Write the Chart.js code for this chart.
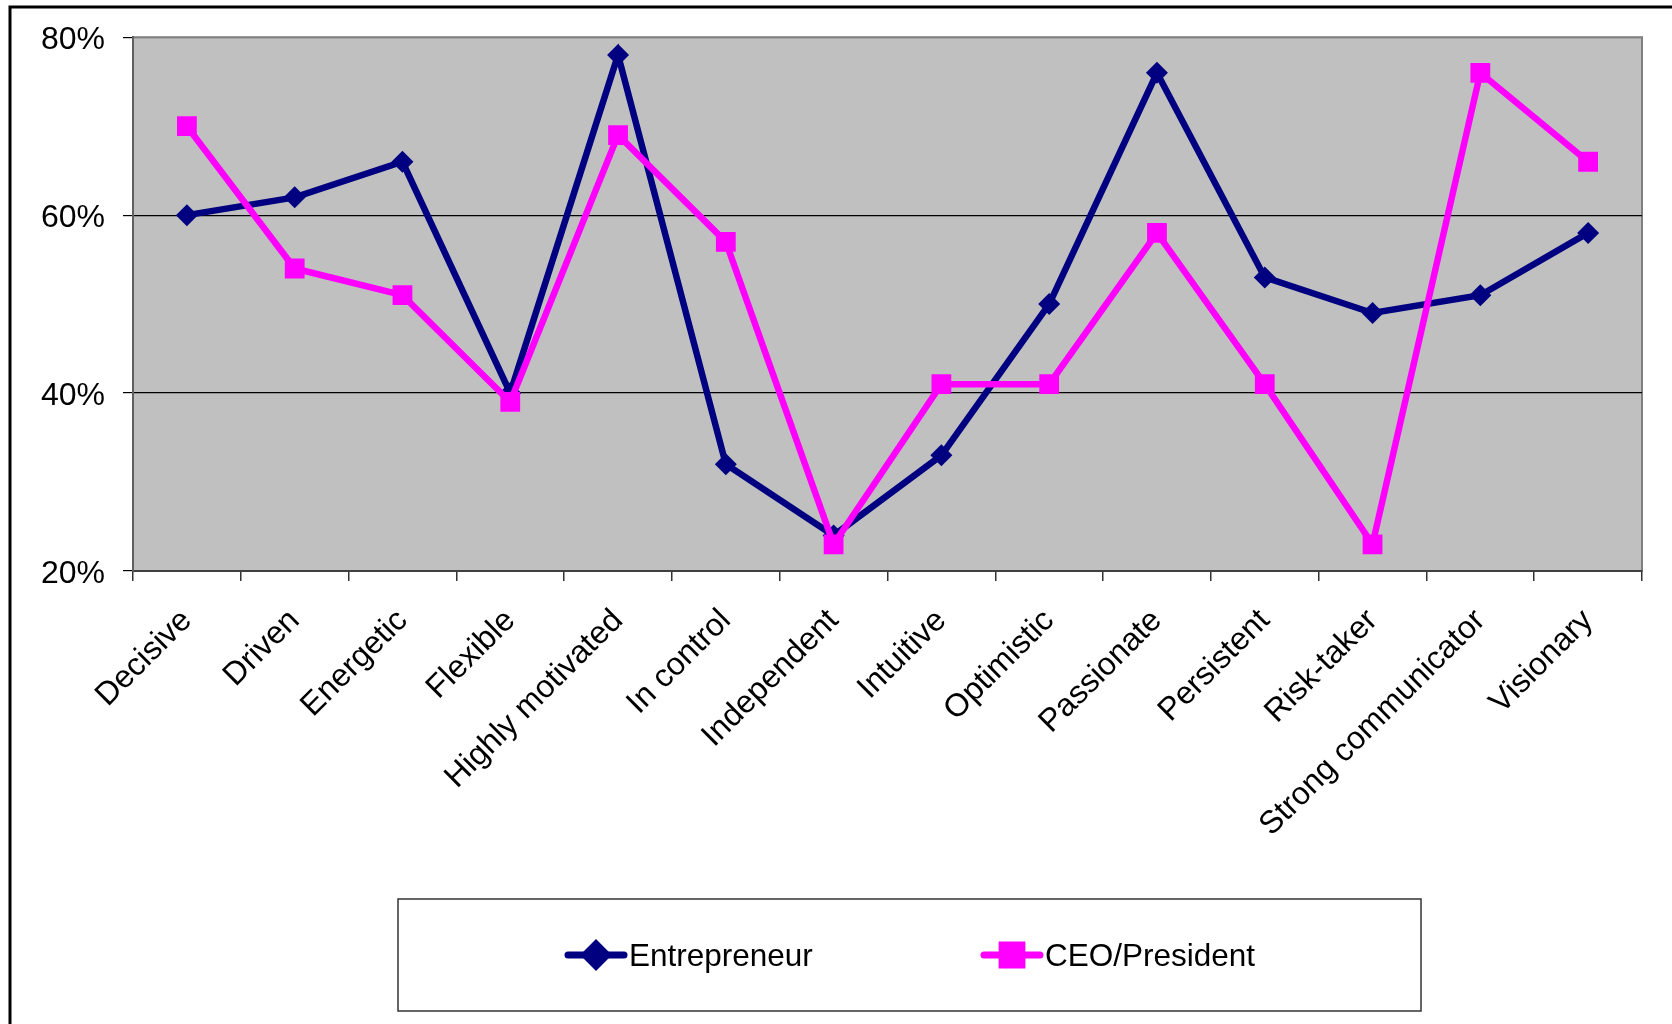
<!DOCTYPE html>
<html>
<head>
<meta charset="utf-8">
<title>Entrepreneur vs CEO/President traits</title>
<script src="https://cdn.jsdelivr.net/npm/chart.js@4/dist/chart.umd.min.js"></script>
<style>
    body { margin: 0; background: #fff; }
    canvas { display: block; }
</style>
</head>
<body>
<canvas id="traitsChart" width="1672" height="1024"></canvas>
<script>
// Traits and survey shares (percent)
const categories = ['Decisive', 'Driven', 'Energetic', 'Flexible', 'Highly motivated', 'In control',
    'Independent', 'Intuitive', 'Optimistic', 'Passionate', 'Persistent', 'Risk-taker',
    'Strong communicator', 'Visionary'];
const entrepreneurValues = [60, 62, 66, 40, 78, 32, 24, 33, 50, 76, 53, 49, 51, 58];
const ceoValues = [70, 54, 51, 39, 69, 57, 23, 41, 41, 58, 41, 23, 76, 66];
const yMin = 20;
const yMax = 80;
const yStep = 20;

const FONT = "'Liberation Sans', Arial, sans-serif";
const NAVY = '#000080';
const MAGENTA = '#FF00FF';

// Frame round the chart and the grey plot background
const backdropPlugin = {
    id: 'backdrop',
    beforeDraw(chart) {
        const { ctx, chartArea: a } = chart;
        ctx.save();
        ctx.fillStyle = '#fff';
        ctx.fillRect(0, 0, chart.width, chart.height);
        ctx.strokeStyle = '#000';
        ctx.lineWidth = 3;
        ctx.beginPath();
        ctx.moveTo(10, chart.height + 2);
        ctx.lineTo(10, 7);
        ctx.lineTo(chart.width + 2, 7);
        ctx.stroke();
        ctx.fillStyle = '#C0C0C0';
        ctx.fillRect(a.left, a.top, a.right - a.left, a.bottom - a.top);
        ctx.strokeStyle = '#808080';
        ctx.lineWidth = 2;
        ctx.strokeRect(a.left, a.top, a.right - a.left, a.bottom - a.top);
        ctx.restore();
    }
};

// Boxed legend with a line through each marker
const boxLegendPlugin = {
    id: 'boxLegend',
    afterDraw(chart, args, opts) {
        const { ctx } = chart;
        ctx.save();
        ctx.strokeStyle = '#333';
        ctx.lineWidth = 1.5;
        ctx.strokeRect(opts.left, opts.top, opts.width, opts.height);
        const cy = opts.top + opts.height / 2;
        chart.data.datasets.forEach((ds, i) => {
            const x0 = opts.items[i];
            ctx.strokeStyle = ds.borderColor;
            ctx.lineWidth = 7;
            ctx.lineCap = 'round';
            ctx.beginPath();
            ctx.moveTo(x0, cy);
            ctx.lineTo(x0 + 56, cy);
            ctx.stroke();
            Chart.helpers.drawPoint(ctx, {
                pointStyle: ds.pointStyle,
                radius: ds.pointRadius,
                borderWidth: 1
            }, x0 + 28, cy);
            ctx.fillStyle = ds.borderColor;
            ctx.fill();
            ctx.fillStyle = '#000';
            ctx.font = '31.5px ' + FONT;
            ctx.textBaseline = 'middle';
            ctx.textAlign = 'left';
            ctx.fillText(ds.label, x0 + 61, cy + 2);
        });
        ctx.restore();
    }
};

const ctx = document.getElementById('traitsChart').getContext('2d');
const traitsChart = new Chart(ctx, {
    type: 'line',
    data: {
        labels: categories,
        datasets: [{
            label: 'Entrepreneur',
            data: entrepreneurValues,
            borderColor: NAVY,
            backgroundColor: NAVY,
            borderWidth: 6.5,
            pointStyle: 'rectRot',
            pointRadius: 11,
            pointBorderWidth: 0,
            tension: 0,
            order: 2
        }, {
            label: 'CEO/President',
            data: ceoValues,
            borderColor: MAGENTA,
            backgroundColor: MAGENTA,
            borderWidth: 6.5,
            pointStyle: 'rect',
            pointRadius: 14,
            pointBorderWidth: 0,
            tension: 0,
            order: 1
        }]
    },
    options: {
        responsive: false,
        animation: false,
        layout: { padding: { left: 0, top: 37, right: 30, bottom: 0 } },
        plugins: {
            legend: { display: false },
            tooltip: { enabled: false },
            boxLegend: { left: 398, top: 899, width: 1023, height: 112, items: [568, 984] }
        },
        scales: {
            x: {
                offset: true,
                afterFit: scale => { scale.height = 1024 - 571; },
                grid: {
                    offset: true,
                    drawOnChartArea: false,
                    tickLength: 10,
                    color: '#333',
                    lineWidth: 1.5
                },
                border: { color: '#404040', width: 2 },
                ticks: {
                    autoSkip: false,
                    minRotation: 45,
                    maxRotation: 45,
                    padding: 21,
                    color: '#000',
                    font: { family: FONT, size: 32 }
                }
            },
            y: {
                min: yMin,
                max: yMax,
                afterFit: scale => { scale.width = 133; },
                grid: {
                    color: c => (c.tick && (c.tick.value === yMax || c.tick.value === yMin)) ? '#808080' : '#000',
                    tickColor: '#000',
                    lineWidth: 1.2,
                    tickLength: 10
                },
                border: { color: '#606060', width: 2 },
                ticks: {
                    stepSize: yStep,
                    padding: 18,
                    labelOffset: 3,
                    color: '#000',
                    font: { family: FONT, size: 32 },
                    callback: v => v + '%'
                }
            }
        }
    },
    plugins: [backdropPlugin, boxLegendPlugin]
});
</script>
</body>
</html>
